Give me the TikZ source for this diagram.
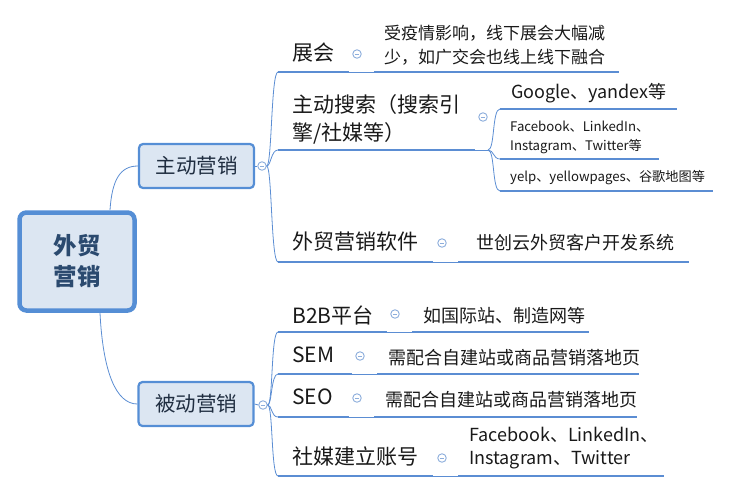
\documentclass[tikz,border=0pt]{standalone}
\usepackage{fontspec}
\setmainfont{Noto Sans CJK SC}
\usepackage{tikz}
\usetikzlibrary{positioning,calc}

\definecolor{lineblue}{HTML}{5B8DD3}
\definecolor{boxfill}{HTML}{DCE6F2}
\definecolor{boxedge}{HTML}{558ED5}
\definecolor{foldblue}{HTML}{8DAEDC}
\definecolor{roottext}{HTML}{2B4A6F}
\definecolor{maintext}{HTML}{1F2D40}

\tikzset{
  root/.style={draw=boxedge, line width=4.5pt, fill=boxfill, rounded corners=7pt,
    minimum width=115pt, minimum height=98pt, text=roottext, align=center,
    font=\fontsize{23.5}{31}\selectfont\bfseries},
  main/.style={draw=boxedge, line width=2.2pt, fill=boxfill, rounded corners=4pt,
    minimum width=115pt, minimum height=44pt, text=maintext,
    font=\fontsize{20.5}{22}\selectfont},
  fold/.style={circle, draw=foldblue, line width=0.9pt, fill=white, minimum size=8.5pt,
    inner sep=0pt, path picture={\draw[foldblue, line width=0.8pt]
      ([xshift=-2.2pt]path picture bounding box.center) -- ([xshift=2.2pt]path picture bounding box.center);}},
  txt/.style={inner sep=0pt, anchor=west, align=left, text=black!90},
  big/.style={font=\fontsize{21}{28}\selectfont},
  mid/.style={font=\fontsize{18}{23}\selectfont},
  small/.style={font=\fontsize{13.2}{19}\selectfont},
  uline/.style={draw=lineblue, line width=2.6pt},
  link/.style={draw=lineblue, line width=0.8pt}
}

\begin{document}
\begin{tikzpicture}[x=1pt, y=-1pt]
  \useasboundingbox (0,0) rectangle (730,493);

  % Links from center
  \coordinate (r-top) at (110,210);
  \coordinate (r-bot) at (100,313);
  \node[main] (zhu) at (196.5,166) {主动营销};
  \node[main] (bei) at (196,404) {被动营销};
  \draw[link] (r-top) .. controls (112,180) and (120,166) .. (zhu.west);
  \draw[link] (r-bot) .. controls (103,372) and (116,404) .. (bei.west);
  \node[root] (root) at (77,261.5) {外贸\\营销};

  % Fold marks of main topics
  \node[fold] (f-zhu) at (262,166) {};
  \node[fold] (f-bei) at (263,405) {};
  \draw[link] (zhu.east) -- (f-zhu.west);
  \draw[link] (bei.east) -- (f-bei.west);

  % Zhanhui
  \coordinate (zh-a) at (278,72);
  \coordinate (zh-b) at (349,72);
  \coordinate (zh-c) at (374,72);
  \coordinate (zh-d) at (619,72);
  \node[txt, big] (zh) at (292,53) {展会};
  \node[fold] (f-zh) at (357,54) {};
  \node[txt, font=\fontsize{17}{24}\selectfont] (zh-1) at (384,45) {受疫情影响，线下展会大幅减\\少，如广交会也线上线下融合};
  \draw[link] (f-zhu.east) .. controls (272,166) and (271,72) .. (zh-a);
  \draw[uline] (zh-a) -- (zh-b);
  \draw[link] (zh-b) -- (zh-c);
  \draw[uline] (zh-c) -- (zh-d);

  % Sousuo
  \coordinate (ss-a) at (278,150);
  \coordinate (ss-b) at (475,150);
  \coordinate (ss-c) at (488,150);
  \node[txt, big] (ss) at (292,119) {主动搜索（搜索引\\擎/社媒等）};
  \node[fold] (f-ss) at (483,117) {};
  \draw[link] (f-zhu.east) .. controls (271,166) and (271,150) .. (ss-a);
  \draw[uline] (ss-a) -- (ss-b);
  \draw[link] (ss-b) -- (ss-c);

  \coordinate (go-a) at (500,109);
  \coordinate (go-b) at (677,109);
  \node[txt, mid] (go) at (511,93) {Google、yandex等};
  \coordinate (fb-a) at (500,159);
  \coordinate (fb-b) at (659,159);
  \node[txt, small] (fb) at (510,137.5) {Facebook、LinkedIn、\\Instagram、Twitter等};
  \coordinate (ye-a) at (500,191);
  \coordinate (ye-b) at (713,191);
  \node[txt, small] (ye) at (510,178) {yelp、yellowpages、谷歌地图等};
  \draw[link] (ss-c) .. controls (495,150) and (492,109) .. (go-a);
  \draw[link] (ss-c) .. controls (494,150) and (493,159) .. (fb-a);
  \draw[link] (ss-c) .. controls (495,150) and (492,191) .. (ye-a);
  \draw[uline] (go-a) -- (go-b);
  \draw[uline] (fb-a) -- (fb-b);
  \draw[uline] (ye-a) -- (ye-b);

  % Ruanjian
  \coordinate (rj-a) at (278,262);
  \coordinate (rj-b) at (433,262);
  \coordinate (rj-c) at (458,262);
  \coordinate (rj-d) at (689,262);
  \node[txt, big] (rj) at (292,242) {外贸营销软件};
  \node[fold] (f-rj) at (442,243) {};
  \node[txt, mid] (rj-1) at (476,243) {世创云外贸客户开发系统};
  \draw[link] (f-zhu.east) .. controls (272,166) and (271,262) .. (rj-a);
  \draw[uline] (rj-a) -- (rj-b);
  \draw[link] (rj-b) -- (rj-c);
  \draw[uline] (rj-c) -- (rj-d);

  % B2B
  \coordinate (bb-a) at (278,332);
  \coordinate (bb-b) at (387,332);
  \coordinate (bb-c) at (412,332);
  \coordinate (bb-d) at (589,332);
  \node[txt, big] (bb) at (292,315) {B2B平台};
  \node[fold] (f-bb) at (395,314) {};
  \node[txt, mid] (bb-1) at (423,316) {如国际站、制造网等};
  \draw[link] (f-bei.east) .. controls (273,405) and (271,332) .. (bb-a);
  \draw[uline] (bb-a) -- (bb-b);
  \draw[link] (bb-b) -- (bb-c);
  \draw[uline] (bb-c) -- (bb-d);

  % SEM
  \coordinate (sm-a) at (278,374);
  \coordinate (sm-b) at (352,374);
  \coordinate (sm-c) at (377,374);
  \coordinate (sm-d) at (639,374);
  \node[txt, big] (sm) at (292,355) {SEM};
  \node[fold] (f-sm) at (360,356) {};
  \node[txt, mid] (sm-1) at (388,358) {需配合自建站或商品营销落地页};
  \draw[link] (f-bei.east) .. controls (272,405) and (271,374) .. (sm-a);
  \draw[uline] (sm-a) -- (sm-b);
  \draw[link] (sm-b) -- (sm-c);
  \draw[uline] (sm-c) -- (sm-d);

  % SEO
  \coordinate (so-a) at (278,417);
  \coordinate (so-b) at (349,417);
  \coordinate (so-c) at (374,417);
  \coordinate (so-d) at (637,417);
  \node[txt, big] (so) at (292,397) {SEO};
  \node[fold] (f-so) at (357,398) {};
  \node[txt, mid] (so-1) at (385,400) {需配合自建站或商品营销落地页};
  \draw[link] (f-bei.east) .. controls (272,405) and (271,417) .. (so-a);
  \draw[uline] (so-a) -- (so-b);
  \draw[link] (so-b) -- (so-c);
  \draw[uline] (so-c) -- (so-d);

  % Shemei
  \coordinate (sh-a) at (278,476);
  \coordinate (sh-b) at (433,476);
  \coordinate (sh-c) at (458,476);
  \coordinate (sh-d) at (664,476);
  \node[txt, big] (sh) at (292,457) {社媒建立账号};
  \node[fold] (f-sh) at (442,458) {};
  \node[txt, mid] (sh-1) at (469,448.5) {Facebook、LinkedIn、\\Instagram、Twitter};
  \draw[link] (f-bei.east) .. controls (273,405) and (271,476) .. (sh-a);
  \draw[uline] (sh-a) -- (sh-b);
  \draw[link] (sh-b) -- (sh-c);
  \draw[uline] (sh-c) -- (sh-d);
\end{tikzpicture}
\end{document}
